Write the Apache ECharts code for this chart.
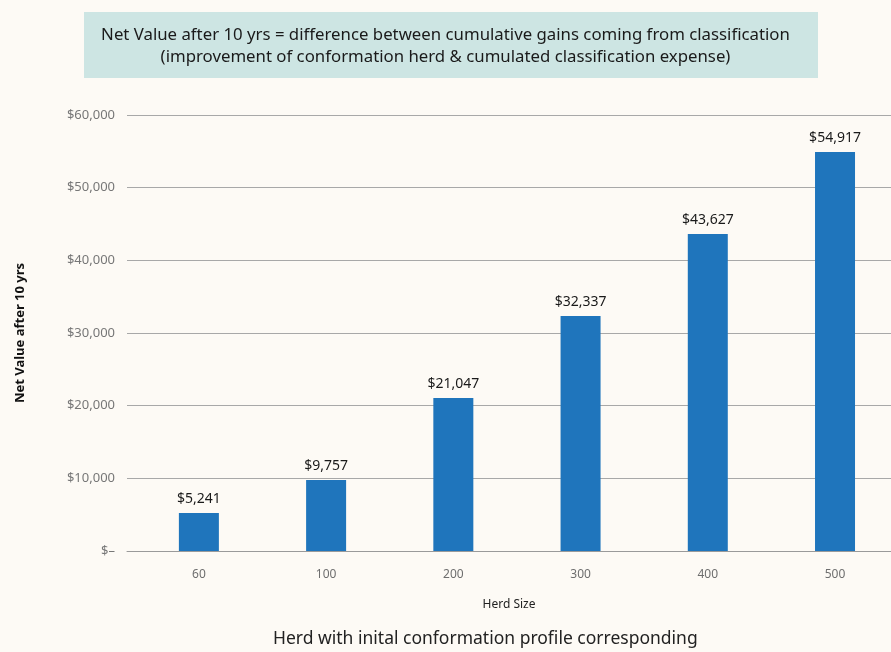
<!DOCTYPE html>
<html><head><meta charset="utf-8">
<script src="https://cdn.jsdelivr.net/npm/echarts@6/dist/echarts.min.js"></script>
<style>html,body{margin:0;padding:0;background:#fdfaf5;}#c{width:891px;height:652px;}</style>
</head><body><div id="c"></div>
<script>
const categories = ['60', '100', '200', '300', '400', '500'];
const netValues = [5241, 9757, 21047, 32337, 43627, 54917];
const yTicks = [0, 10000, 20000, 30000, 40000, 50000, 60000];
const titleLines = ['Net Value after 10 yrs = difference between cumulative gains coming from classification', '(improvement of conformation herd & cumulated classification expense)'];
const xName = 'Herd Size';
const yName = 'Net Value after 10 yrs';
const footer = 'Herd with inital conformation profile corresponding';

function money(v){ return v === 0 ? '$\u2013' : '$' + v.toLocaleString('en-US'); }
const font = '"Noto Sans", sans-serif';
const idx = categories.map((c, i) => i);
const barData = netValues.map((v, i) => [i, v]);
const chart = echarts.init(document.getElementById('c'), null, {renderer:'canvas'});
chart.setOption({
  backgroundColor: '#fdfaf5',
  animation: false,
  grid: {left: 127, right: 0, top: 115, bottom: 101, containLabel: false},
  xAxis: {
    type: 'value', min: -0.565, max: 5.44,
    axisLine: {show: true, onZero: false, lineStyle: {color: '#9a9a9a', width: 1}},
    axisTick: {show: false},
    splitLine: {show: false},
    axisLabel: {color: '#6e6e6e', fontSize: 12, fontFamily: font, margin: 18, customValues: idx,
      showMinLabel: true, showMaxLabel: true, formatter: v => categories[Math.round(v)]},
    name: xName, nameLocation: 'middle', nameGap: 48,
    nameTextStyle: {color: '#222', fontSize: 12, fontFamily: font}
  },
  yAxis: {
    type: 'value', min: 0, max: yTicks[yTicks.length-1], interval: yTicks[1]-yTicks[0],
    axisLine: {show: false}, axisTick: {show: false},
    splitLine: {lineStyle: {color: '#a8a8a8', width: 1}},
    axisLabel: {color: '#777', fontSize: 13, fontFamily: font, margin: 12, formatter: money},
    name: yName, nameLocation: 'middle', nameGap: 100, nameRotate: 90,
    nameTextStyle: {color: '#111', fontSize: 13, fontWeight: 'bold', fontFamily: font}
  },
  series: [{
    type: 'bar', data: barData, barWidth: 40,
    itemStyle: {color: '#1f75bc'},
    label: {show: true, position: 'top', distance: 7, color: '#1a1a1a', fontSize: 14, fontFamily: font, formatter: p => money(p.value[1])}
  }],
  graphic: [
    {type: 'rect', left: 84, top: 12, shape: {width: 734, height: 66}, style: {fill: '#cde5e3'}},
    {type: 'text', left: 'center', top: 24, style: {text: titleLines.join('\n'), fill: '#1a1a1a', fontSize: 16.8, lineHeight: 22, fontFamily: font, textAlign: 'center'}},
    {type: 'text', left: 273, top: 630, style: {text: footer, fill: '#222', fontSize: 17.5, fontFamily: font}}
  ]
});
</script></body></html>
